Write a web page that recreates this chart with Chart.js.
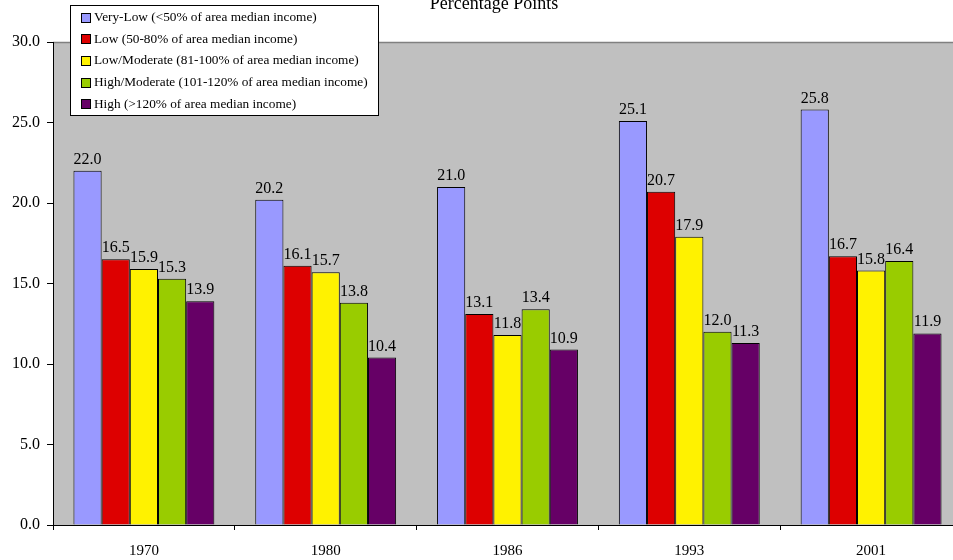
<!DOCTYPE html>
<html>
<head>
<meta charset="utf-8">
<script src="https://cdn.jsdelivr.net/npm/chart.js@4/dist/chart.umd.min.js"></script>
<style>
  html, body { margin: 0; padding: 0; background: #fff; overflow: hidden; }
  #wrap { width: 962px; height: 560px; }
</style>
</head>
<body>
<div id="wrap"><canvas id="c" width="962" height="560"></canvas></div>
<script>
// Years on the category axis
const years = ['1970', '1980', '1986', '1993', '2001'];

// Income groups (series names)
const seriesNames = [
  'Very-Low (<50% of area median income)',
  'Low (50-80% of area median income)',
  'Low/Moderate (81-100% of area median income)',
  'High/Moderate (101-120% of area median income)',
  'High (>120% of area median income)'
];

// Values in percentage points, one array per income group
const veryLow      = [22.0, 20.2, 21.0, 25.1, 25.8];
const low          = [16.5, 16.1, 13.1, 20.7, 16.7];
const lowModerate  = [15.9, 15.7, 11.8, 17.9, 15.8];
const highModerate = [15.3, 13.8, 13.4, 12.0, 16.4];
const high         = [13.9, 10.4, 10.9, 11.3, 11.9];

// Value axis ticks
const yTicks = [0, 5, 10, 15, 20, 25, 30];

const chartTitle = 'Percentage Points';

const seriesValues = [veryLow, low, lowModerate, highModerate, high];
const seriesColors = ['#9999FF', '#DD0000', '#FFF200', '#99CC00', '#660066'];

const SERIF = '"Liberation Serif", "Times New Roman", serif';

// Grey plotting area with a thin grey rule along its top
const plotBackground = {
  id: 'plotBackground',
  beforeDraw(chart) {
    const { ctx, chartArea: a } = chart;
    ctx.save();
    ctx.fillStyle = '#C0C0C0';
    ctx.fillRect(a.left, a.top, a.right - a.left, a.bottom - a.top);
    ctx.strokeStyle = '#808080';
    ctx.lineWidth = 1.5;
    ctx.beginPath();
    ctx.moveTo(a.left, a.top + 0.5);
    ctx.lineTo(a.right, a.top + 0.5);
    ctx.stroke();
    ctx.restore();
  }
};

// Value printed above every bar
const valueLabels = {
  id: 'valueLabels',
  afterDatasetsDraw(chart) {
    const { ctx } = chart;
    ctx.save();
    ctx.font = '16px ' + SERIF;
    ctx.fillStyle = '#000';
    ctx.textAlign = 'center';
    ctx.textBaseline = 'alphabetic';
    chart.data.datasets.forEach((ds, i) => {
      chart.getDatasetMeta(i).data.forEach((bar, j) => {
        ctx.fillText(ds.data[j].toFixed(1), bar.x, bar.y - 7);
      });
    });
    ctx.restore();
  }
};

// Title and boxed legend laid over the upper-left of the plot
const titleAndLegend = {
  id: 'titleAndLegend',
  afterDraw(chart) {
    const { ctx } = chart;
    ctx.save();
    ctx.fillStyle = '#000';
    ctx.font = '18px ' + SERIF;
    ctx.textAlign = 'center';
    ctx.textBaseline = 'alphabetic';
    ctx.fillText(chartTitle, 494, 9);

    const bx = 70.5, by = 5.5, bw = 308, bh = 110;
    ctx.fillStyle = '#fff';
    ctx.fillRect(bx, by, bw, bh);
    ctx.strokeStyle = '#000';
    ctx.lineWidth = 1;
    ctx.strokeRect(bx, by, bw, bh);

    ctx.font = '13.3px ' + SERIF;
    ctx.textAlign = 'left';
    ctx.textBaseline = 'middle';
    chart.data.datasets.forEach((ds, i) => {
      const cy = 17.5 + i * 21.7;
      ctx.fillStyle = ds.backgroundColor;
      ctx.fillRect(81, Math.round(cy - 5), 10, 10);
      ctx.strokeStyle = '#000';
      ctx.strokeRect(81.5, Math.round(cy - 5) + 0.5, 9, 9);
      ctx.fillStyle = '#000';
      ctx.fillText(ds.label, 94, cy);
    });
    ctx.restore();
  }
};

new Chart(document.getElementById('c'), {
  type: 'bar',
  data: {
    labels: years,
    datasets: seriesNames.map((name, i) => ({
      label: name,
      data: seriesValues[i],
      backgroundColor: seriesColors[i],
      borderColor: '#000',
      borderWidth: 1,
      categoryPercentage: 0.775,
      barPercentage: 1.0
    }))
  },
  options: {
    responsive: false,
    animation: false,
    devicePixelRatio: 1,
    layout: { padding: { top: 42, left: 0, right: 0, bottom: 0 } },
    plugins: {
      legend: { display: false },
      title: { display: false },
      tooltip: { enabled: false }
    },
    scales: {
      x: {
        grid: {
          drawOnChartArea: false,
          drawTicks: true,
          tickLength: 5,
          tickColor: '#000',
          offset: true
        },
        border: { color: '#000', width: 1 },
        ticks: {
          color: '#000',
          font: { family: SERIF, size: 15 },
          padding: 12,
          maxRotation: 0
        },
        afterFit(scale) { scale.height = 35; }
      },
      y: {
        min: 0,
        max: 30,
        afterBuildTicks(scale) { scale.ticks = yTicks.map(v => ({ value: v })); },
        grid: {
          drawOnChartArea: false,
          drawTicks: true,
          tickLength: 6,
          tickColor: '#000'
        },
        border: { color: '#000', width: 1 },
        ticks: {
          color: '#000',
          font: { family: SERIF, size: 16 },
          padding: 7,
          callback: v => Number(v).toFixed(1)
        },
        afterFit(scale) { scale.width = 53; }
      }
    }
  },
  plugins: [plotBackground, valueLabels, titleAndLegend]
});
</script>
</body>
</html>
